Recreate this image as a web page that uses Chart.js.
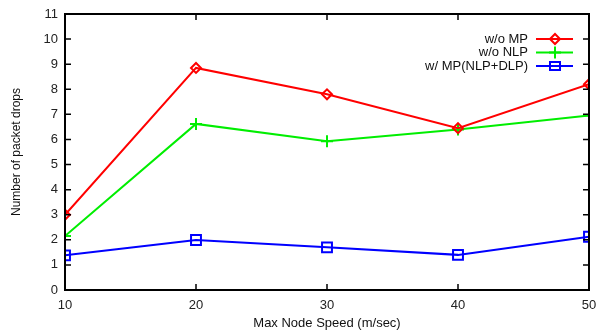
<!DOCTYPE html>
<html>
<head>
<meta charset="utf-8">
<script src="https://cdn.jsdelivr.net/npm/chart.js@4.4.1/dist/chart.umd.min.js"></script>
<style>
  html, body { margin: 0; padding: 0; background: #fff; }
  #wrap { width: 598px; height: 331px; }
</style>
</head>
<body>
<div id="wrap"><canvas id="c" width="598" height="331"></canvas></div>
<script>
// data
const speeds = [10, 20, 30, 40, 50];
const woMP = [3.0, 8.85, 7.8, 6.45, 8.2];
const woNLP = [2.15, 6.62, 5.93, 6.4, 6.95];
const wMP = [1.38, 1.99, 1.7, 1.4, 2.12];
const yTicks = [0, 1, 2, 3, 4, 5, 6, 7, 8, 9, 10, 11];
const seriesNames = ['w/o MP', 'w/o NLP', 'w/ MP(NLP+DLP)'];

const FONT = 'Liberation Sans, Arial, Helvetica, sans-serif';

function pts(vals) { return speeds.map((s, i) => ({ x: s, y: vals[i] })); }

// draws one gnuplot-ish marker
function marker(ctx, style, x, y, color) {
  ctx.save();
  ctx.strokeStyle = color;
  ctx.lineWidth = 2;
  ctx.beginPath();
  if (style === 'rectRot') {
    ctx.moveTo(x - 5, y); ctx.lineTo(x, y - 5); ctx.lineTo(x + 5, y); ctx.lineTo(x, y + 5); ctx.closePath();
  } else if (style === 'cross') {
    ctx.moveTo(x - 6, y); ctx.lineTo(x + 6, y); ctx.moveTo(x, y - 6); ctx.lineTo(x, y + 6);
  } else {
    ctx.rect(x - 5, y - 4, 10, 8);
  }
  ctx.stroke();
  ctx.restore();
}

// frame, inward ticks and key, gnuplot style
const framePlugin = {
  id: 'frame',
  afterDraw(chart) {
    const { ctx, chartArea: a, scales } = chart;
    ctx.save();
    ctx.strokeStyle = '#000';
    ctx.lineWidth = 2;
    ctx.strokeRect(a.left, a.top, a.right - a.left, a.bottom - a.top);
    ctx.lineWidth = 1.5;
    ctx.beginPath();
    yTicks.forEach(v => {
      const y = scales.y.getPixelForValue(v);
      ctx.moveTo(a.left, y); ctx.lineTo(a.left + 6, y);
      ctx.moveTo(a.right, y); ctx.lineTo(a.right - 6, y);
    });
    speeds.forEach(v => {
      const x = scales.x.getPixelForValue(v);
      ctx.moveTo(x, a.bottom); ctx.lineTo(x, a.bottom - 6);
      ctx.moveTo(x, a.top); ctx.lineTo(x, a.top + 6);
    });
    ctx.stroke();

    // key
    ctx.font = '13px ' + FONT;
    ctx.textAlign = 'right';
    ctx.textBaseline = 'middle';
    chart.data.datasets.forEach((ds, i) => {
      const y = a.top + 25 + i * 13.5;
      ctx.fillStyle = '#111';
      ctx.fillText(seriesNames[i], a.right - 61, y);
      ctx.strokeStyle = ds.borderColor;
      ctx.lineWidth = 2;
      ctx.beginPath();
      ctx.moveTo(a.right - 53, y); ctx.lineTo(a.right - 16, y);
      ctx.stroke();
      marker(ctx, ds.pointStyle, a.right - 34, y, ds.borderColor);
    });
    ctx.restore();
  }
};

const mk = (label, vals, color, style, r) => ({
  label, data: pts(vals), borderColor: color, backgroundColor: 'rgba(0,0,0,0)',
  borderWidth: 2, pointStyle: style, pointRadius: r, pointBorderWidth: 2,
  pointBackgroundColor: 'rgba(0,0,0,0)', pointBorderColor: color, tension: 0
});

new Chart(document.getElementById('c'), {
  type: 'line',
  data: {
    datasets: [
      mk(seriesNames[0], woMP, '#ff0000', 'rectRot', 5),
      mk(seriesNames[1], woNLP, '#00ee00', 'cross', 6),
      mk(seriesNames[2], wMP, '#0000ff', 'rect', 7)
    ]
  },
  options: {
    responsive: false, animation: false,
    layout: { padding: { top: 14, right: 7, left: 0, bottom: 0 } },
    plugins: { legend: { display: false }, tooltip: { enabled: false } },
    scales: {
      x: {
        type: 'linear', min: 10, max: 50,
        afterBuildTicks: s => { s.ticks = speeds.map(v => ({ value: v })); },
        afterFit: s => { s.height = 41; s.paddingLeft = 0; s.paddingRight = 0; },
        grid: { display: false, drawTicks: false },
        border: { display: false },
        ticks: { color: '#222', font: { family: FONT, size: 13 }, padding: 8 },
        title: { display: true, text: 'Max Node Speed (m/sec)', color: '#111', font: { family: FONT, size: 13 }, padding: { top: 2, bottom: 0 } }
      },
      y: {
        min: 0, max: 11,
        afterBuildTicks: s => { s.ticks = yTicks.map(v => ({ value: v })); },
        afterFit: s => { s.width = 65; s.paddingTop = 0; s.paddingBottom = 0; },
        grid: { display: false, drawTicks: false },
        border: { display: false },
        ticks: { color: '#222', font: { family: FONT, size: 13 }, padding: 7 },
        title: { display: true, text: 'Number of packet drops', color: '#111', font: { family: FONT, size: 12 }, padding: { top: 9, bottom: 0 } }
      }
    }
  },
  plugins: [framePlugin]
});
</script>
</body>
</html>
